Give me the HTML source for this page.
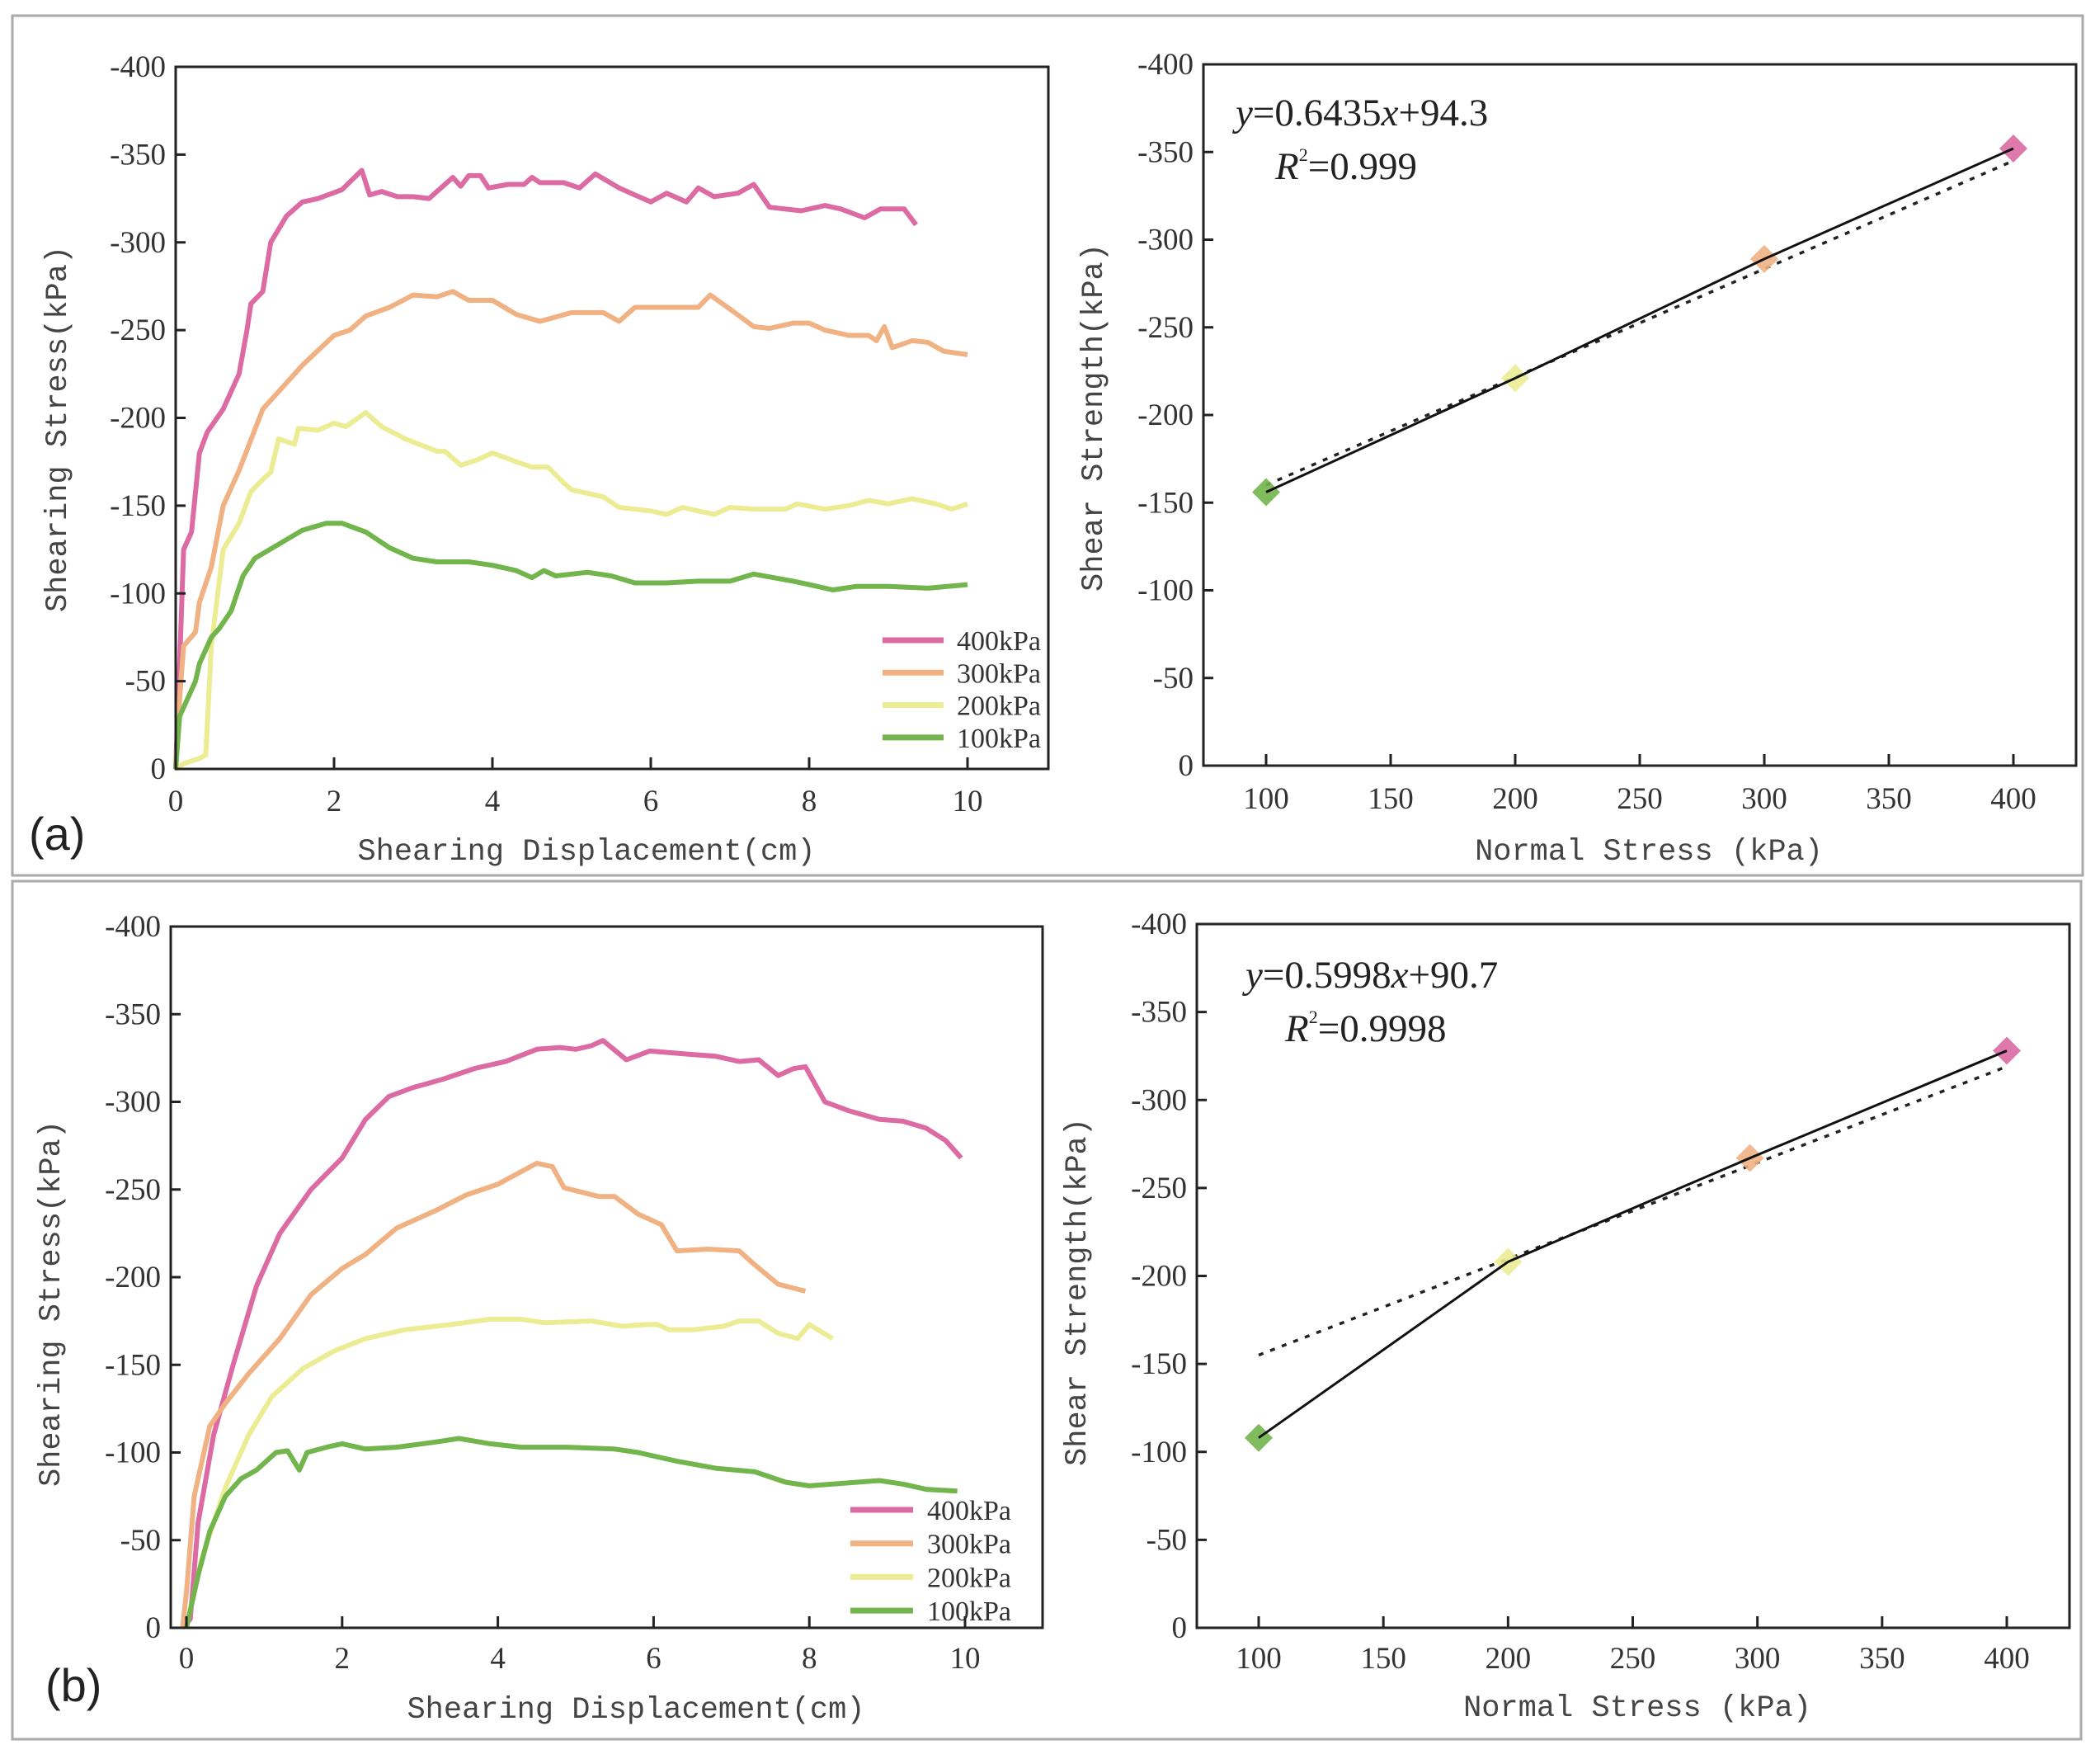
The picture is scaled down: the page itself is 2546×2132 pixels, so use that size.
<!DOCTYPE html>
<html><head><meta charset="utf-8">
<style>
html,body{margin:0;padding:0;background:#fff;}
svg{display:block;}
.tk{font-family:"Liberation Serif",serif;font-size:37px;fill:#333;}
.tt{font-family:"Liberation Mono",monospace;font-size:37px;fill:#444;}
.lg{font-family:"Liberation Serif",serif;font-size:34px;fill:#333;}
.eq{font-family:"Liberation Serif",serif;font-size:47px;fill:#222;}
.pl{font-family:"Liberation Sans",sans-serif;font-size:56px;fill:#222;}
</style></head>
<body>
<svg id="fig" width="2546" height="2132" viewBox="0 0 2546 2132" xmlns="http://www.w3.org/2000/svg">
<rect x="15" y="19" width="2510" height="1042" fill="none" stroke="#aaa" stroke-width="3"/>
<rect x="15" y="1068" width="2508" height="1040" fill="none" stroke="#aaa" stroke-width="3"/>
<text class="pl" x="35" y="1030">(a)</text>
<text class="pl" x="55" y="2062">(b)</text>
</svg>
<script>
// ---- Data ----
const seriesNames = ['400kPa','300kPa','200kPa','100kPa'];
const seriesColors = ['#dc6aa3','#f0b183','#ecec95','#72b54c'];
const yTicks = [0,50,100,150,200,250,300,350,400];
const dispTicks = [0,2,4,6,8,10];
const normalTicks = [100,150,200,250,300,350,400];

const a400x=[0,0.05,0.1,0.2,0.3,0.4,0.6,0.8,0.9,0.95,1.1,1.2,1.4,1.6,1.8,2.1,2.35,2.45,2.6,2.8,3.0,3.2,3.5,3.6,3.7,3.85,3.95,4.2,4.4,4.5,4.6,4.9,5.1,5.3,5.6,6.0,6.2,6.45,6.6,6.8,7.1,7.3,7.5,7.9,8.2,8.4,8.7,8.9,9.2,9.35];
const a400y=[0,60,125,135,180,192,205,225,250,265,272,300,315,323,325,330,341,327,329,326,326,325,337,332,338,338,331,333,333,337,334,334,331,339,331,323,328,323,331,326,328,333,320,318,321,319,314,319,319,310];
const a300x=[0,0.05,0.1,0.25,0.3,0.45,0.6,0.8,1.1,1.3,1.6,2.0,2.2,2.4,2.7,3.0,3.3,3.5,3.7,4.0,4.3,4.6,5.0,5.4,5.6,5.8,6.2,6.6,6.75,7.0,7.3,7.5,7.8,8.0,8.2,8.5,8.75,8.85,8.95,9.05,9.3,9.5,9.7,10];
const a300y=[0,40,70,78,95,115,150,170,205,215,230,247,250,258,263,270,269,272,267,267,259,255,260,260,255,263,263,263,270,262,252,251,254,254,250,247,247,244,252,240,244,243,238,236];
const a200x=[0,0.1,0.3,0.38,0.45,0.6,0.8,0.95,1.1,1.2,1.3,1.5,1.55,1.8,2.0,2.15,2.4,2.6,2.9,3.3,3.4,3.6,3.8,4.0,4.3,4.5,4.7,4.9,5.0,5.4,5.6,6.0,6.2,6.4,6.6,6.8,7.0,7.3,7.7,7.85,8.2,8.5,8.75,9.0,9.3,9.6,9.8,10];
const a200y=[0,3,6,8,70,125,140,158,165,169,188,185,194,193,197,195,203,195,188,181,181,173,176,180,175,172,172,163,159,155,149,147,145,149,147,145,149,148,148,151,148,150,153,151,154,151,148,151];
const a100x=[0,0.05,0.15,0.25,0.3,0.45,0.55,0.7,0.85,1.0,1.3,1.6,1.9,2.1,2.4,2.7,3.0,3.3,3.7,4.0,4.3,4.5,4.65,4.8,5.2,5.5,5.8,6.2,6.6,7.0,7.3,7.8,8.0,8.3,8.6,9.0,9.5,10];
const a100y=[0,30,40,50,60,75,80,90,110,120,128,136,140,140,135,126,120,118,118,116,113,109,113,110,112,110,106,106,107,107,111,107,105,102,104,104,103,105];

const b400x=[-0.05,0.05,0.15,0.35,0.6,0.9,1.2,1.6,2.0,2.3,2.6,2.9,3.3,3.7,4.1,4.5,4.8,5.0,5.2,5.35,5.65,5.95,6.5,6.8,7.1,7.35,7.6,7.8,7.95,8.2,8.5,8.9,9.2,9.5,9.75,9.95];
const b400y=[0,5,60,110,150,195,225,250,268,290,303,308,313,319,323,330,331,330,332,335,324,329,327,326,323,324,315,319,320,300,295,290,289,285,278,268];
const b300x=[-0.05,0.0,0.1,0.3,0.5,0.8,1.2,1.6,2.0,2.3,2.7,3.2,3.6,4.0,4.25,4.5,4.7,4.85,5.3,5.5,5.8,6.1,6.3,6.7,7.1,7.3,7.6,7.95];
const b300y=[0,20,75,115,128,145,165,190,205,213,228,238,247,253,259,265,263,251,246,246,236,230,215,216,215,207,196,192];
const b200x=[0.0,0.05,0.2,0.5,0.8,1.1,1.5,1.9,2.3,2.8,3.4,3.9,4.3,4.6,5.2,5.6,5.9,6.05,6.2,6.5,6.9,7.1,7.35,7.6,7.85,8.0,8.3];
const b200y=[0,10,40,80,110,132,148,158,165,170,173,176,176,174,175,172,173,173,170,170,172,175,175,168,165,173,165];
const b100x=[0.0,0.05,0.15,0.3,0.5,0.7,0.9,1.15,1.3,1.45,1.55,1.8,2.0,2.3,2.7,3.2,3.5,3.9,4.3,4.9,5.5,5.8,6.3,6.8,7.3,7.7,8.0,8.3,8.6,8.9,9.2,9.5,9.9];
const b100y=[0,10,30,55,75,85,90,100,101,90,100,103,105,102,103,106,108,105,103,103,102,100,95,91,89,83,81,82,83,84,82,79,78];

const aNormal=[100,200,300,400];
const aStrength=[156,221,289,352];
const aFitX=[100,400];
const aFitY=[160,345];
const bNormal=[100,200,297,400];
const bStrength=[108,208,267,328];
const bFitX=[100,400];
const bFitY=[155,319];

// ---- Helpers ----
const NS='http://www.w3.org/2000/svg';
const svg=document.getElementById('fig');
function mk(tag,attrs,parent){const e=document.createElementNS(NS,tag);for(const k in attrs)e.setAttribute(k,attrs[k]);(parent||svg).appendChild(e);return e;}
function axes(box,xmin,xmax){
  const sx=v=>box.x0+(v-xmin)/(xmax-xmin)*(box.x1-box.x0);
  const sy=v=>box.y1-v/400*(box.y1-box.y0);
  return {sx,sy};
}
function frame(box,sx,sy,xt,xtY,name){
  const g=mk('g',{});
  
  
  const r=mk('rect',{x:box.x0,y:box.y0,width:box.x1-box.x0,height:box.y1-box.y0,fill:'none',stroke:'#222','stroke-width':3},g);
  
  
  yTicks.forEach(v=>{
    const y=sy(v);
    mk('line',{x1:box.x0,x2:box.x0+12,y1:y,y2:y,stroke:'#222','stroke-width':3},g);
    const t=mk('text',{x:box.x0-12,y:y+12,'text-anchor':'end',class:'tk'},g);
    t.textContent=v===0?'0':'-'+v;
    
    
  });
  xt.forEach(v=>{
    const x=sx(v);
    mk('line',{x1:x,x2:x,y1:box.y1,y2:box.y1-14,stroke:'#222','stroke-width':3},g);
    const t=mk('text',{x:x,y:xtY,'text-anchor':'middle',class:'tk'},g);
    t.textContent=String(v);
    
    
  });
}
function title(txt,x,y,rot,name){
  const t=mk('text',{x:x,y:y,'text-anchor':'middle',class:'tt',transform:rot?`rotate(-90 ${x} ${y})`:''});
  t.textContent=txt;
  
  
}
function curves(sx,sy,xs,ys,name,leg){
  xs.forEach((xa,i)=>{
    const d=xa.map((v,j)=>(j?'L':'M')+sx(v).toFixed(1)+' '+sy(ys[i][j]).toFixed(1)).join(' ');
    const p=mk('path',{d:d,fill:'none',stroke:seriesColors[i],'stroke-width':6,'stroke-linejoin':'round'});
    
    
  });
  seriesNames.forEach((n,i)=>{
    const y=leg.y+i*leg.dy;
    const l=mk('line',{x1:leg.x0,x2:leg.x1,y1:y,y2:y,stroke:seriesColors[i],'stroke-width':7});
    
    
    const t=mk('text',{x:leg.tx,y:y+12,class:'lg'});
    t.textContent=n;
    
    
  });
}
function strength(sx,sy,xs,ys,fx,fy,name){
  const d=xs.map((v,j)=>(j?'L':'M')+sx(v).toFixed(1)+' '+sy(ys[j]).toFixed(1)).join(' ');
  const fit=mk('line',{x1:sx(fx[0]),y1:sy(fy[0]),x2:sx(fx[1]),y2:sy(fy[1]),stroke:'#222','stroke-width':3.5,'stroke-dasharray':'6 9'});
  
  
  const order=[3,2,1,0];
  xs.forEach((v,j)=>{
    const cx=sx(v),cy=sy(ys[j]),s=17;
    const m=mk('polygon',{points:`${cx},${cy-s} ${cx+s},${cy} ${cx},${cy+s} ${cx-s},${cy}`,fill:seriesColors[order[j]],opacity:0.9});
    
    
  });
  const p=mk('path',{d:d,fill:'none',stroke:'#111','stroke-width':3});
  
  
}
function equation(x,y,slope,icpt,x2,y2,r2,name){
  const t=mk('text',{x:x,y:y,class:'eq'});
  t.innerHTML=`<tspan font-style="italic">y</tspan>=${slope}<tspan font-style="italic">x</tspan>+${icpt}`;
  
  
  const r=mk('text',{x:x2,y:y2,class:'eq'});
  r.innerHTML=`<tspan font-style="italic">R</tspan><tspan font-size="22" dy="-22">2</tspan><tspan dy="22">=${r2}</tspan>`;
  
  
}

// ---- Panel a left ----
{const box={x0:213,x1:1271,y0:81,y1:932};
 const A=axes(box,0,(1271-213)/96);
 curves(A.sx,A.sy,[a400x,a300x,a200x,a100x],[a400y,a300y,a200y,a100y],'a',{x0:1070,x1:1144,y:776,dy:39.3,tx:1160});
 frame(box,A.sx,A.sy,dispTicks,983,'a-left');
 title('Shearing Stress(kPa)',80,520,true,'a-y-axis-title');
 title('Shearing Displacement(cm)',711,1042,false,'a-x-axis-title');}
// ---- Panel a right ----
{const box={x0:1459,x1:2517,y0:78,y1:928};
 const k=(2441-1535)/300, xmin=100-(1535-1459)/k, xmax=xmin+(2517-1459)/k;
 const A=axes(box,xmin,xmax);
 strength(A.sx,A.sy,aNormal,aStrength,aFitX,aFitY,'a-strength');
 frame(box,A.sx,A.sy,normalTicks,980,'a-right');
 equation(1498,152,'0.6435','94.3',1546,217,'0.999','a');
 title('Shear Strength(kPa)',1336,506,true,'a-right-y-axis-title');
 title('Normal Stress (kPa)',1999,1042,false,'a-right-x-axis-title');}
// ---- Panel b left ----
{const box={x0:207,x1:1264,y0:1123,y1:1973};
 const k=(1170-226)/10, xmin=-(226-207)/k, xmax=xmin+(1264-207)/k;
 const A=axes(box,xmin,xmax);
 curves(A.sx,A.sy,[b400x,b300x,b200x,b100x],[b400y,b300y,b200y,b100y],'b',{x0:1031,x1:1107,y:1830,dy:40.7,tx:1124});
 frame(box,A.sx,A.sy,dispTicks,2022,'b-left');
 title('Shearing Stress(kPa)',72,1580,true,'b-y-axis-title');
 title('Shearing Displacement(cm)',771,2082,false,'b-x-axis-title');}
// ---- Panel b right ----
{const box={x0:1451,x1:2509,y0:1120,y1:1973};
 const k=(2433-1526)/300, xmin=100-(1526-1451)/k, xmax=xmin+(2509-1451)/k;
 const A=axes(box,xmin,xmax);
 strength(A.sx,A.sy,bNormal,bStrength,bFitX,bFitY,'b-strength');
 frame(box,A.sx,A.sy,normalTicks,2022,'b-right');
 equation(1510,1197,'0.5998','90.7',1558,1262,'0.9998','b');
 title('Shear Strength(kPa)',1316,1566,true,'b-right-y-axis-title');
 title('Normal Stress (kPa)',1985,2080,false,'b-right-x-axis-title');}
</script>
</body></html>
